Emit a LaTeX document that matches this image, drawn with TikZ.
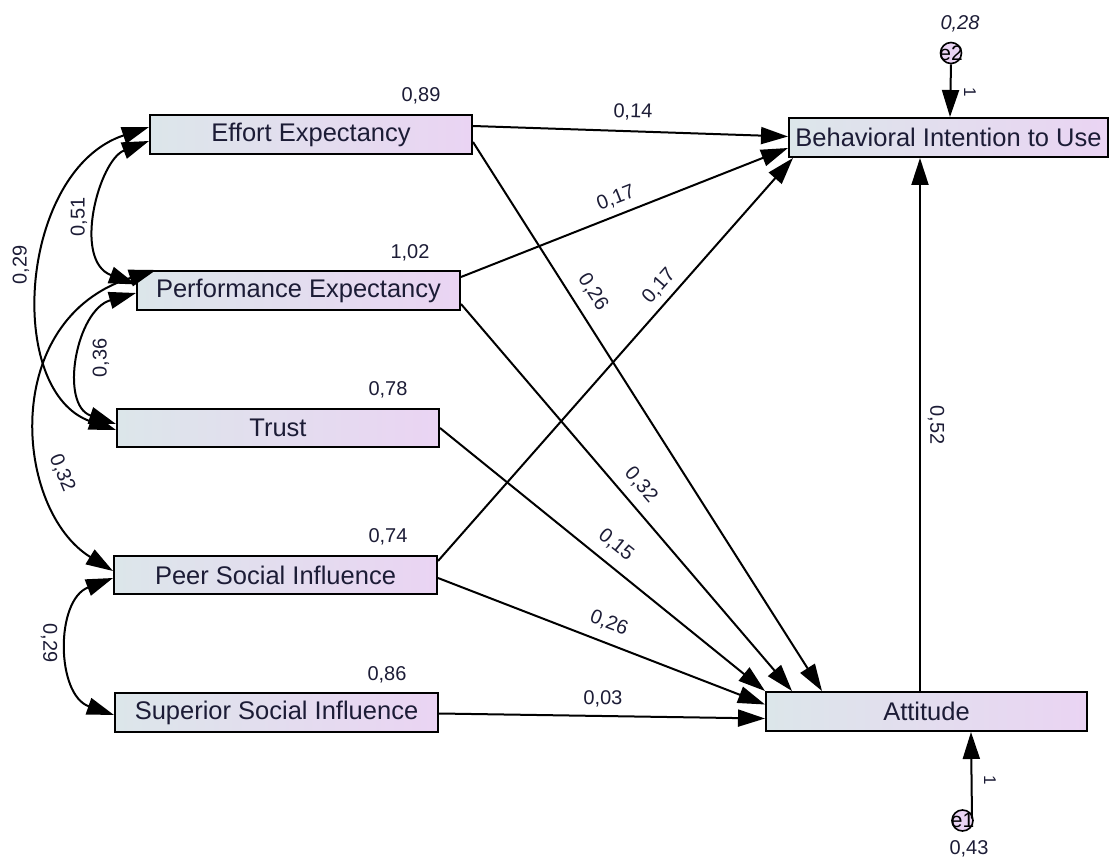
\documentclass[tikz,border=0pt]{standalone}
\usepackage{fontspec}
\setmainfont{Liberation Sans}
\usetikzlibrary{arrows.meta,calc}
\definecolor{boxL}{HTML}{DCE6EA}
\definecolor{boxR}{HTML}{EAD4F3}
\definecolor{ink}{HTML}{1C1C36}

\begin{document}
\begin{tikzpicture}[x=1pt,y=-1pt,
  var/.style={draw=black, line width=2pt, left color=boxL, right color=boxR,
    minimum height=39pt, inner sep=0pt, text=ink,
    font=\fontsize{25.5}{29}\selectfont},
  err/.style={circle, draw=black, line width=1.6pt, fill=boxR,
    minimum size=21pt, inner sep=0pt},
  errtext/.style={font=\fontsize{21}{24}\selectfont, text=black, inner sep=0pt},
  num/.style={font=\fontsize{20}{23}\selectfont, text=ink, inner sep=0pt},
  tip/.tip={Triangle[length=27pt,width=17pt]},
  reg/.style={line width=2pt, -tip},
  cov/.style={line width=2pt, tip-tip},
]
\useasboundingbox (0,0) rectangle (1112,861);

% observed variables
\node[var, minimum width=322pt] (EE) at (311,134.5) {Effort Expectancy};
\node[var, minimum width=323pt] (PE) at (298.5,290.5) {Performance Expectancy};
\node[var, minimum width=322pt, minimum height=38pt] (TR) at (278,428) {Trust};
\node[var, minimum width=323pt, minimum height=38pt] (PS) at (275.5,575) {Peer Social Influence};
\node[var, minimum width=323pt] (SS) at (276.5,712.5) {Superior Social Influence};
\node[var, minimum width=319pt] (BI) at (948.5,137.5) {Behavioral Intention to Use};
\node[var, minimum width=321pt] (AT) at (926.5,711.5) {Attitude};

% error terms
\node[err, label={[errtext]center:e2}] (e2) at (951,53) {};
\node[err, label={[errtext]center:e1}] (e1) at (962.5,820.5) {};

% variances
\node[num] at (421,96) {0,89};
\node[num] at (410,253) {1,02};
\node[num] at (388,390) {0,78};
\node[num] at (388,537) {0,74};
\node[num] at (387,675) {0,86};
\node[num, font=\fontsize{20}{23}\selectfont\itshape] at (960,24) {0,28};
\node[num] at (969,849) {0,43};

% regression paths
\draw[reg] ($(EE.north east)+(0,12)$) -- ($(BI.west)+(0,-1)$);
\draw[reg] ($(PE.north east)+(0,7)$) -- ($(BI.south west)+(0,-10)$);
\draw[reg] ($(PS.north east)+(0,6)$) -- ($(BI.south west)+(5,0)$);
\draw[reg] ($(AT.north west)+(155,0)$) -- ($(BI.south west)+(132,0)$);
\draw[reg] ($(EE.north east)+(0,28)$) -- ($(AT.north west)+(57,0)$);
\draw[reg] ($(PE.north east)+(0,34)$) -- ($(AT.north west)+(27,0)$);
\draw[reg] (TR.east) -- (AT.north west);
\draw[reg] ($(PS.east)+(0,3)$) -- ($(AT.west)+(0,-7)$);
\draw[reg] ($(SS.east)+(0,1)$) -- ($(AT.west)+(0,7)$);
\draw[reg] (e2.south) -- ($(BI.north west)+(162,0)$);
\draw[reg] ($(e1.center)+(9.5,-2)$) -- ($(AT.south west)+(206,0)$);

% regression weights
\node[num, rotate=-2] at (633,112) {0,14};
\node[num, rotate=21.5] at (616,198) {0,17};
\node[num, rotate=48.5] at (659,286) {0,17};
\node[num, rotate=-57.4] at (593,292) {0,26};
\node[num, rotate=-49.2] at (641,485) {0,32};
\node[num, rotate=-38.8] at (616,545) {0,15};
\node[num, rotate=-21] at (609,623) {0,26};
\node[num, rotate=-1] at (603,699) {0,03};
\node[num, rotate=-90] at (936,425) {0,52};
\node[num, font=\fontsize{17}{20}\selectfont, rotate=-90] at (970,92) {1};
\node[num, font=\fontsize{17}{20}\selectfont, rotate=-90] at (990,780) {1};

% covariances
\draw[cov] ($(EE.west)+(0,-7.5)$) .. controls +(-130,43) and +(-112,-38) .. ($(TR.west)+(0,2)$);
\draw[cov] ($(EE.west)+(0,6.5)$) .. controls +(-50,19) and +(-64,-24) .. ($(PE.west)+(0,-6)$);
\draw[cov] ($(PE.west)+(0,2.5)$) .. controls +(-60,17) and +(-57,-19) .. ($(TR.west)+(0,-4)$);
\draw[cov] ($(PE.north west)+(20,0)$) .. controls +(-157,49) and +(-99,-61) .. ($(PS.west)+(0,-4)$);
\draw[cov] ($(PS.west)+(0,3)$) .. controls +(-58,22) and +(-58,-20) .. ($(SS.west)+(0,2.5)$);

\node[num, rotate=90] at (21,265) {0,29};
\node[num, rotate=90] at (79,217) {0,51};
\node[num, rotate=90] at (101,358) {0,36};
\node[num, rotate=-68] at (62,473) {0,32};
\node[num, rotate=-90] at (49,643) {0,29};
\end{tikzpicture}
\end{document}
